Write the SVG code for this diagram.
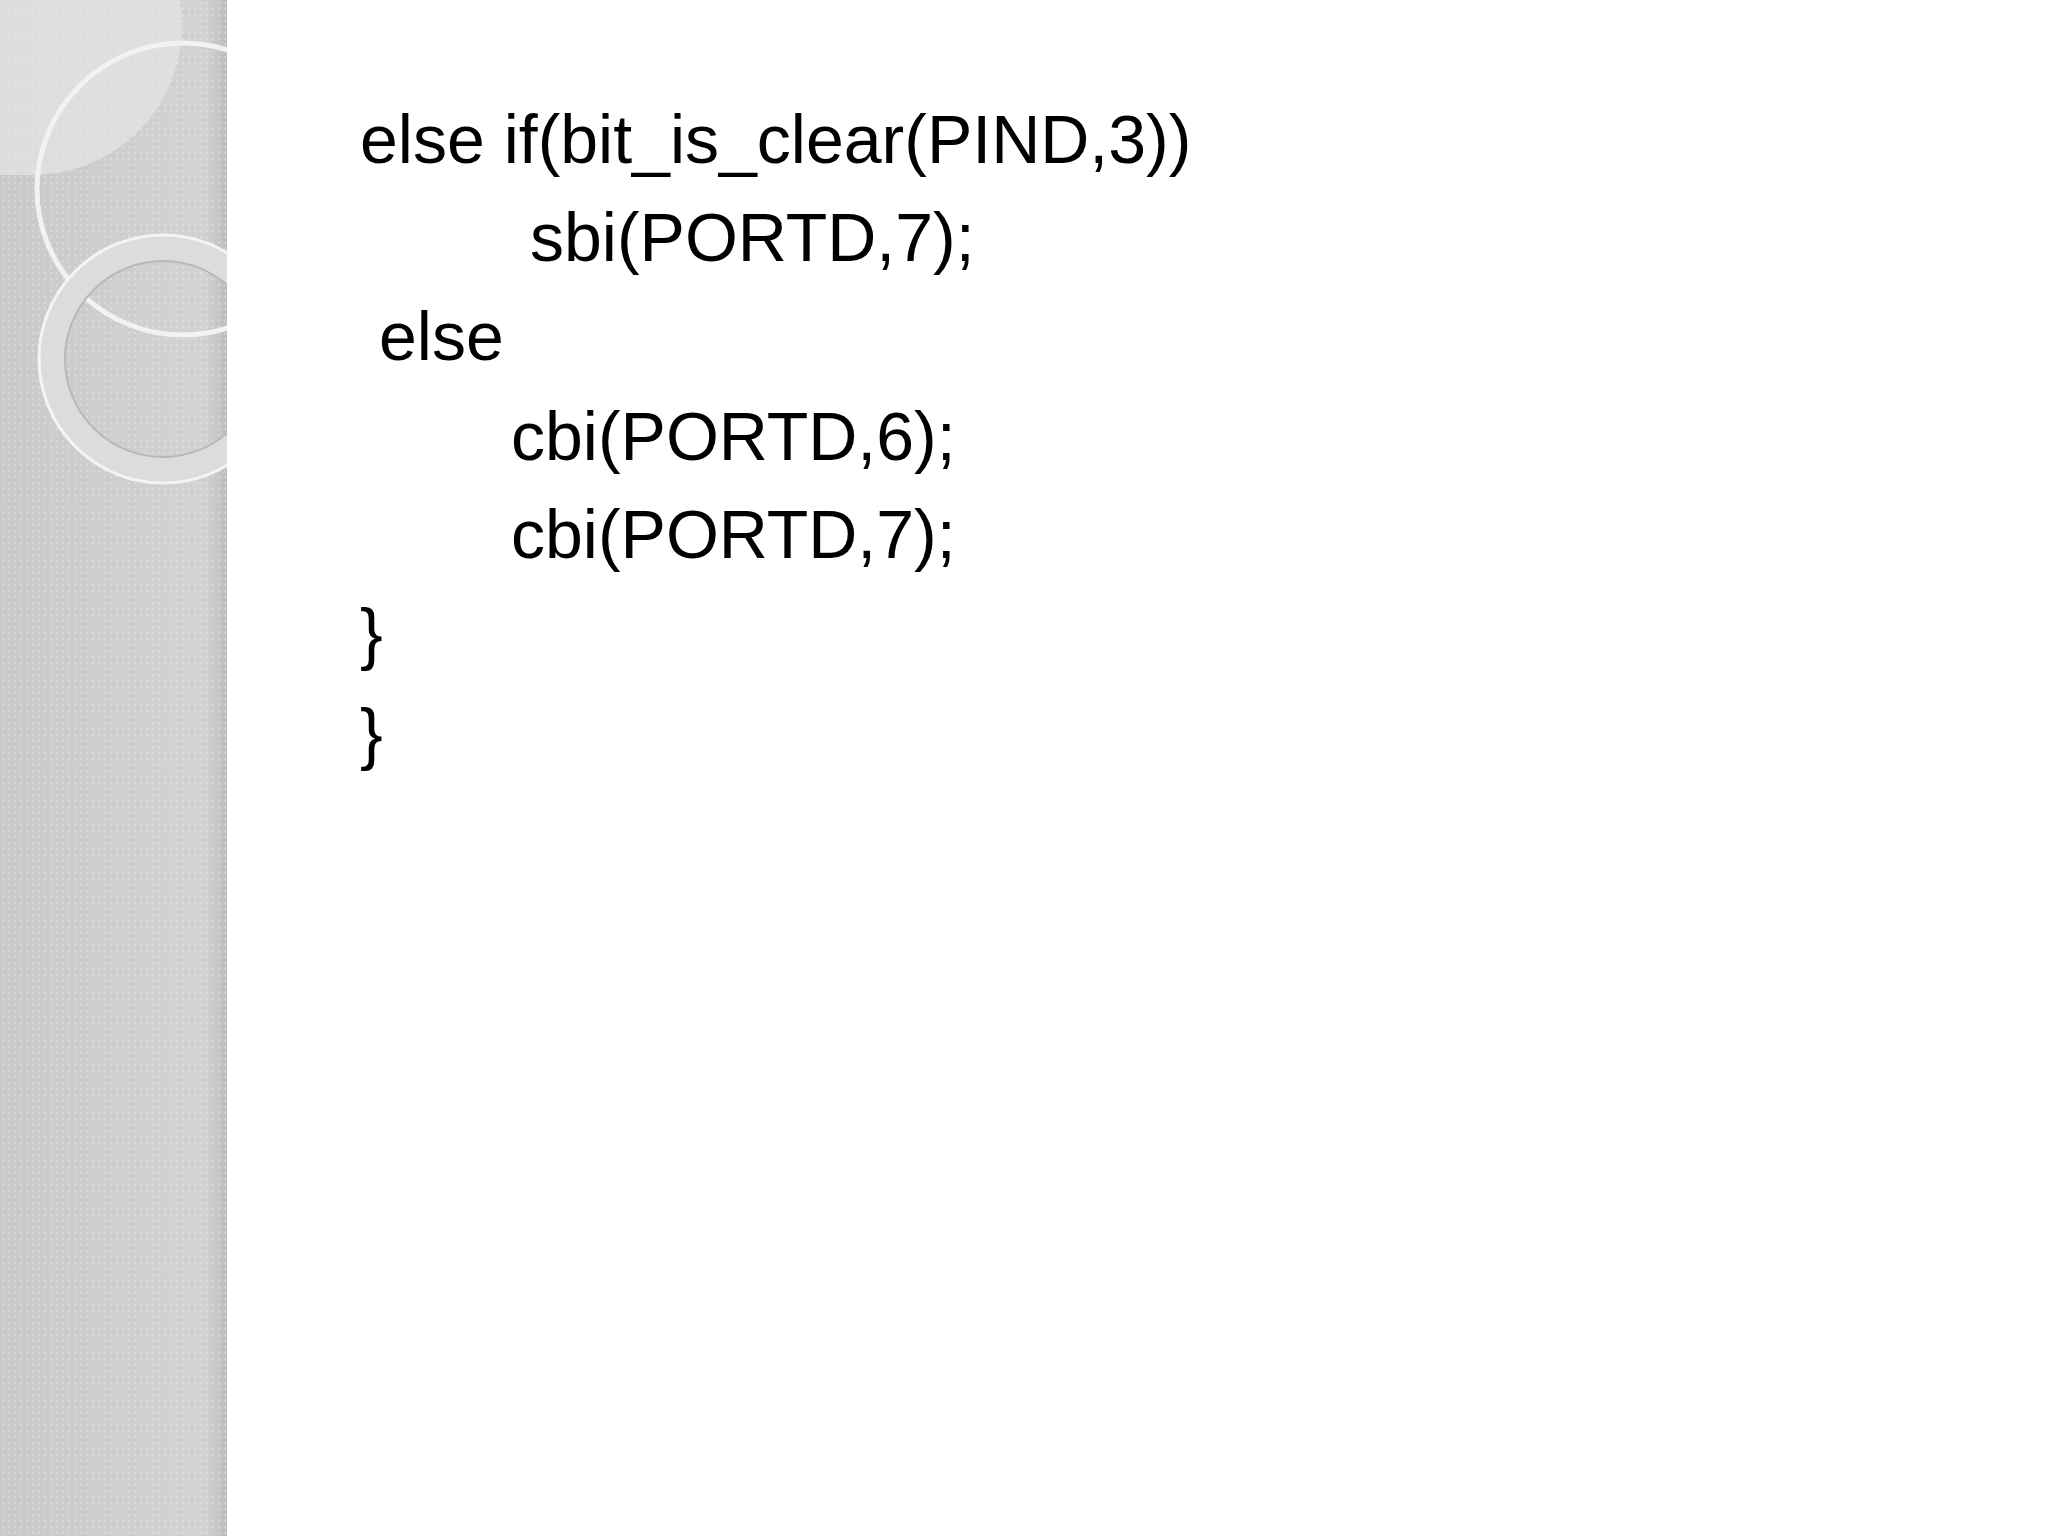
<svg xmlns="http://www.w3.org/2000/svg" width="2048" height="1536" viewBox="0 0 2048 1536">
<defs>
<linearGradient id="side" x1="0" y1="0" x2="1" y2="0">
<stop offset="0" stop-color="#c9c9c9"/><stop offset="0.9" stop-color="#d2d2d2"/><stop offset="1" stop-color="#bdbdbd"/>
</linearGradient>
<pattern id="dots" width="6" height="6" patternUnits="userSpaceOnUse">
<rect width="6" height="6" fill="none"/><circle cx="3" cy="3" r="1.2" fill="#ffffff" opacity="0.25"/>
</pattern>
<clipPath id="pc"><rect x="0" y="0" width="227" height="1536"/></clipPath>
</defs>
<style>
.code{font-family:"Liberation Sans",Arial,sans-serif;font-size:68px;fill:#000}
</style>
<rect width="2048" height="1536" fill="#fff"/>
<g id="sidebar" clip-path="url(#pc)">
<rect x="0" y="0" width="227" height="1536" fill="url(#side)"/>
<rect x="0" y="0" width="227" height="1536" fill="url(#dots)"/>
<path d="M0 0 H180 A150 150 0 0 1 40 175 H0 Z" fill="#e6e6e6" opacity="0.7"/>
<circle cx="183" cy="189" r="146" fill="none" stroke="#f2f2f2" stroke-width="5"/>
<circle cx="163" cy="359" r="111" fill="none" stroke="#dcdcdc" stroke-width="26"/>
<circle cx="163" cy="359" r="124" fill="none" stroke="#f4f4f4" stroke-width="3"/>
<circle cx="163" cy="359" r="98" fill="none" stroke="#b8b8b8" stroke-width="2"/>
</g>
<g id="code">
<text class="code" x="360" y="163">else if(bit_is_clear(PIND,3))</text>
<text class="code" x="530" y="261">sbi(PORTD,7);</text>
<text class="code" x="379" y="360">else</text>
<text class="code" x="511" y="460">cbi(PORTD,6);</text>
<text class="code" x="511" y="558">cbi(PORTD,7);</text>
<text class="code" x="360" y="657">}</text>
<text class="code" x="360" y="757">}</text>
</g>
</svg>
